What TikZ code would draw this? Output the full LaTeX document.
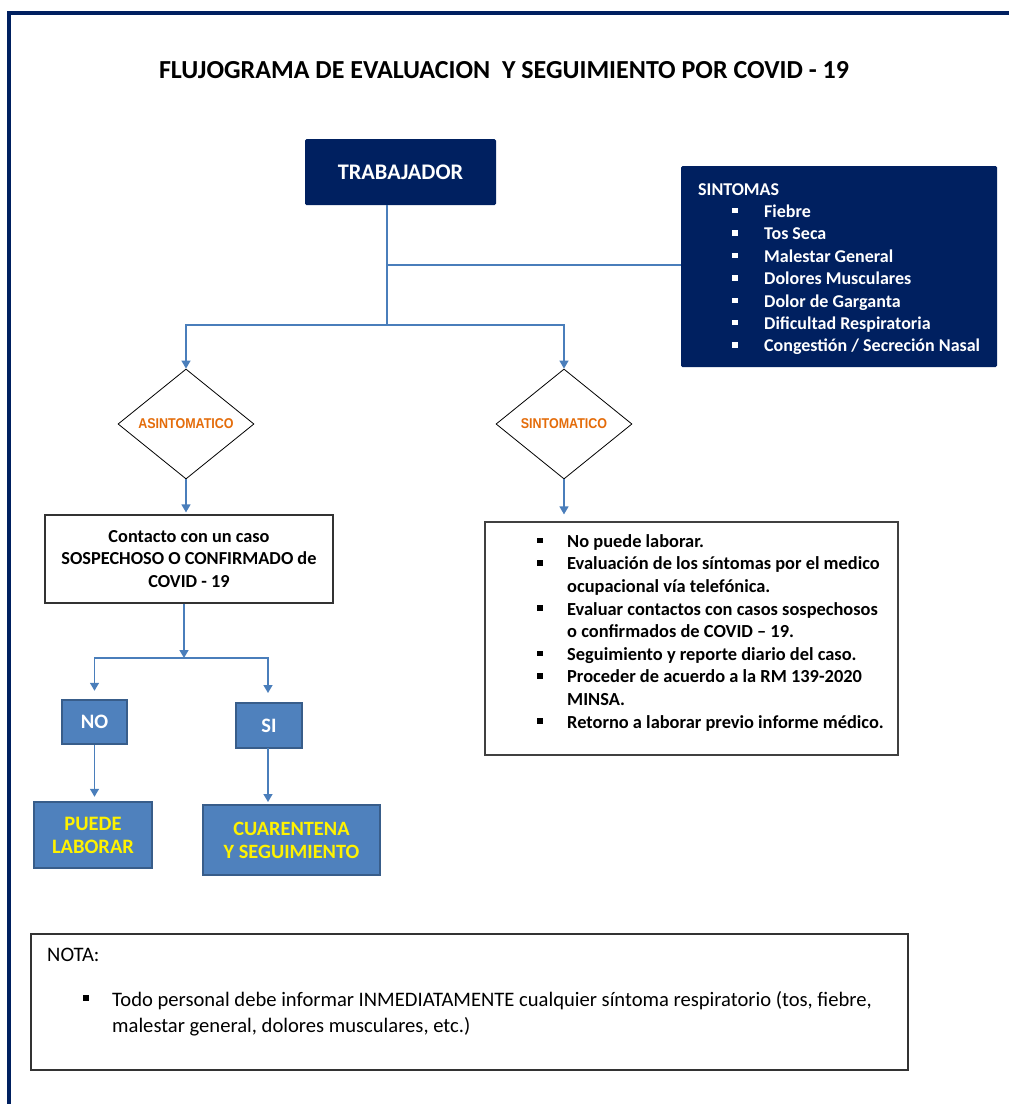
\documentclass[tikz,border=0pt]{standalone}
\usepackage{fontspec}
\setmainfont{Carlito}
\newfontfamily\narrowfont[FakeStretch=0.88]{Liberation Sans}
\usetikzlibrary{shapes.geometric,arrows.meta}

\definecolor{navy}{HTML}{002060}
\definecolor{lineblue}{HTML}{4A7EBB}
\definecolor{boxblue}{HTML}{4F81BD}
\definecolor{boxedge}{HTML}{385D8A}
\definecolor{diaorange}{HTML}{E46C0A}
\newcommand{\sqbul}{\rule[0.22em]{0.3em}{0.3em}}

\begin{document}
\begin{tikzpicture}[x=1pt,y=-1pt,
	flow/.style={draw=lineblue,line width=1.4pt},
	arr/.style={flow,-{Triangle[width=9pt,length=8pt]}},
	navybox/.style={rectangle,fill=navy,rounded corners=1.5pt,text=white},
	choice/.style={diamond,draw=black,line width=0.8pt,fill=white,inner sep=0pt,
		minimum width=136pt,minimum height=110pt,text=diaorange,
		font=\narrowfont\bfseries\fontsize{14.2}{16}\selectfont},
	bluebox/.style={rectangle,fill=boxblue,draw=boxedge,line width=2.5pt,
		font=\bfseries\fontsize{20.5}{24}\selectfont,align=center},
	plainbox/.style={rectangle,draw=black!80,line width=1.2pt,fill=white},
	symtext/.style={inner sep=0pt,text=white,font=\bfseries\fontsize{18}{22.4}\selectfont},
	notatext/.style={inner sep=0pt,font=\fontsize{20.6}{25}\selectfont}]
\useasboundingbox (0,0) rectangle (1009,1104);

% border
\draw[navy,line width=4pt] (9,1104) -- (9,13) -- (1009,13);

% title
\node[font=\bfseries\fontsize{26}{30}\selectfont,anchor=base] (title) at (504,78)
	{FLUJOGRAMA DE EVALUACION \ Y SEGUIMIENTO POR COVID - 19};

% top boxes
\node[navybox,minimum width=191pt,minimum height=66pt,font=\bfseries\fontsize{22.3}{26}\selectfont]
	(trab) at (400.5,172) {TRABAJADOR};
\node[navybox,minimum width=316pt,minimum height=201pt] (sint) at (839,266.5) {};
\node[symtext,anchor=base west] (sinttitle) at (698,195) {SINTOMAS};
\foreach \s [count=\k] in {Fiebre, Tos Seca, Malestar General, Dolores Musculares,
	Dolor de Garganta, Dificultad Respiratoria, {Congestión / Secreción Nasal}} {
	\node[symtext,anchor=base west] (bul\k) at (732,{195+22.4*\k}) {\sqbul};
	\node[symtext,anchor=base west] (sym\k) at (764,{195+22.4*\k}) {\s};
}

% decisions
\node[choice] (asint) at (186,424) {ASINTOMATICO};
\node[choice] (sintd) at (564,424) {SINTOMATICO};

% left branch
\node[plainbox,minimum width=288pt,minimum height=88pt,align=center,
	font=\bfseries\fontsize{18.3}{22.5}\selectfont] (contacto) at (189,559)
	{Contacto con un caso\\SOSPECHOSO O CONFIRMADO de\\COVID - 19};
\node[bluebox,minimum width=65pt,minimum height=44pt,text=white] (no) at (94.5,722) {NO};
\node[bluebox,minimum width=66pt,minimum height=45pt,text=white] (si) at (269,725.5) {SI};
\node[bluebox,minimum width=118pt,minimum height=66pt,text=yellow,
	font=\bfseries\fontsize{20.5}{23}\selectfont] (puede) at (93,835) {PUEDE\\LABORAR};
\node[bluebox,minimum width=177pt,minimum height=70pt,text=yellow,
	font=\bfseries\fontsize{20.3}{23}\selectfont] (cuar) at (291.5,840) {CUARENTENA\\Y SEGUIMIENTO};

% right branch
\node[plainbox,draw=black!75,minimum width=413pt,minimum height=233pt] (evalbox) at (691.5,638.5) {};
\node[inner sep=0pt,anchor=north west,font=\bfseries\fontsize{18.4}{22.6}\selectfont]
	(evaltxt) at (537,531.2) {%
	\begin{tabular}{@{}p{30pt}@{}l@{}}
	\sqbul & No puede laborar.\\
	\sqbul & Evaluación de los síntomas por el medico\\
	       & ocupacional vía telefónica.\\
	\sqbul & Evaluar contactos con casos sospechosos\\
	       & o confirmados de COVID – 19.\\
	\sqbul & Seguimiento y reporte diario del caso.\\
	\sqbul & Proceder de acuerdo a la RM 139-2020\\
	       & MINSA.\\
	\sqbul & Retorno a laborar previo informe médico.
	\end{tabular}};

% note
\node[plainbox,minimum width=877pt,minimum height=136pt] (nota) at (469.5,1002) {};
\node[notatext,anchor=base west] (notalbl) at (47,961) {NOTA:};
\node[notatext,anchor=base west] (notabul) at (83,1006) {\sqbul};
\node[notatext,anchor=base west] (nota1) at (112,1006)
	{Todo personal debe informar INMEDIATAMENTE cualquier síntoma respiratorio (tos, fiebre,};
\node[notatext,anchor=base west] (nota2) at (112,1032) {malestar general, dolores musculares, etc.)};

% connectors
\coordinate (tap) at (387,265);
\coordinate (split) at (387,325);
\coordinate (fork) at (184,658);
\draw[flow] (trab.south -| split) -- (split);
\draw[flow] (tap) -- (tap -| sint.west);
\draw[arr] (split) -| (asint.north);
\draw[arr] (split) -| (sintd.north);
\draw[arr,shorten >=2pt] (asint.south) -- (asint.south |- contacto.north);
\draw[arr,shorten >=7pt] (sintd.south) -- (sintd.south |- evalbox.north);
\draw[arr] (contacto.south -| fork) -- (fork);
\draw[arr,shorten >=8pt] (fork) -| (no.north);
\draw[arr,shorten >=10pt] (fork) -| (268,703);
\draw[arr,shorten >=4pt] (no.south) -- (no.south |- puede.north);
\draw[arr,shorten >=3pt] (268,748) -- (268,805);

\end{tikzpicture}
\end{document}
